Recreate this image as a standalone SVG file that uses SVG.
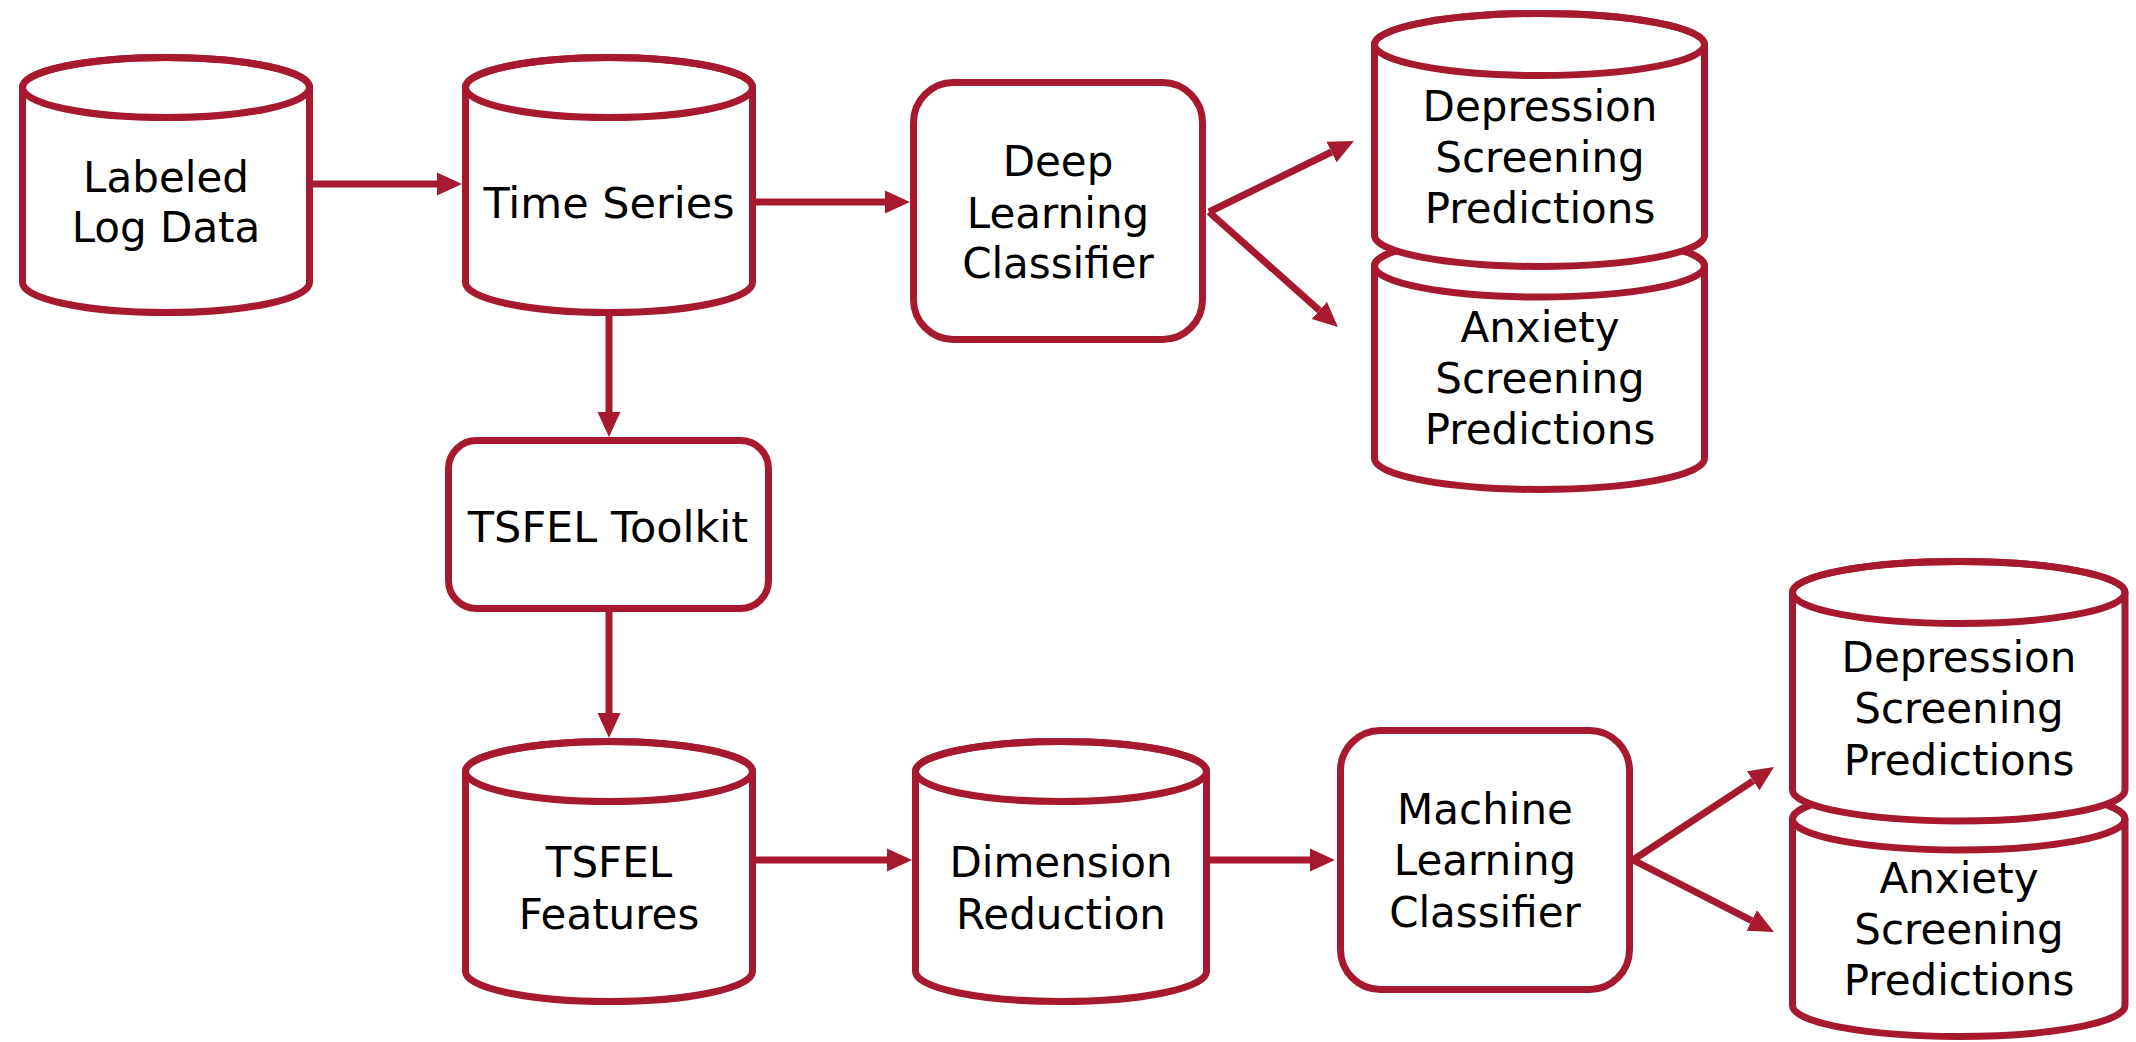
<svg xmlns="http://www.w3.org/2000/svg" width="2136" height="1042" viewBox="0 0 2136 1042">
  <style>
    .shape { fill: #ffffff; stroke: #A6192E; stroke-width: 7; }
    .rim { fill: none; stroke: #A6192E; stroke-width: 7; }
    .edge { stroke: #A6192E; stroke-width: 7; fill: none; marker-end: url(#head); }
    .label { font-family: "DejaVu Sans", Verdana, sans-serif; font-size: 42px; fill: #000000; text-anchor: middle; }
    .wide { font-size: 43px; }
  </style>
  <defs>
    <marker id="head" markerUnits="userSpaceOnUse" viewBox="0 -12 26 24" markerWidth="26" markerHeight="24" refX="0" refY="0" orient="auto">
      <path d="M0,-11.5 L25,0 L0,11.5 Z" fill="#A6192E"/>
    </marker>
  </defs>
  <rect width="2136" height="1042" fill="#ffffff"/>

  <!-- connectors -->
  <g id="connectors">
    <line class="edge" x1="313" y1="184" x2="437" y2="184"/>
    <line class="edge" x1="756" y1="202" x2="885" y2="202"/>
    <line class="edge" x1="1209" y1="212" x2="1331.5" y2="152"/>
    <line class="edge" x1="1209" y1="212" x2="1319.3" y2="310.4"/>
    <line class="edge" x1="609" y1="316" x2="609" y2="412"/>
    <line class="edge" x1="609" y1="612" x2="609" y2="713"/>
    <line class="edge" x1="756" y1="860" x2="887" y2="860"/>
    <line class="edge" x1="1210" y1="860" x2="1310" y2="860"/>
    <line class="edge" x1="1633" y1="860" x2="1753.1" y2="780.8"/>
    <line class="edge" x1="1633" y1="860" x2="1751.7" y2="920.6"/>
  </g>

  <!-- cylinder: body path + top rim ellipse -->
  <g id="labeled-log-data">
    <path class="shape" d="M22.5,87.5 L22.5,282.5 A143.5,30 0 0 0 309.5,282.5 L309.5,87.5 A143.5,30 0 0 0 22.5,87.5 Z"/>
    <ellipse class="rim" cx="166" cy="87.5" rx="143.5" ry="30"/>
    <text class="label" x="166" y="192">Labeled</text>
    <text class="label" x="166" y="242">Log Data</text>
  </g>

  <g id="time-series">
    <path class="shape" d="M465.5,87.5 L465.5,282.5 A143.5,30 0 0 0 752.5,282.5 L752.5,87.5 A143.5,30 0 0 0 465.5,87.5 Z"/>
    <ellipse class="rim" cx="609" cy="87.5" rx="143.5" ry="30"/>
    <text class="label wide" x="609" y="218">Time Series</text>
  </g>

  <g id="deep-learning-classifier">
    <rect class="shape" x="913.5" y="82.5" width="289" height="257" rx="40" ry="40"/>
    <text class="label" x="1058" y="176">Deep</text>
    <text class="label" x="1058" y="228">Learning</text>
    <text class="label" x="1058" y="278">Classifier</text>
  </g>

  <g id="anxiety-dl">
    <path class="shape" d="M1374.5,266 L1374.5,458.5 A165,31 0 0 0 1704.5,458.5 L1704.5,266 A165,31 0 0 0 1374.5,266 Z"/>
    <ellipse class="rim" cx="1539.5" cy="266" rx="165" ry="31"/>
    <text class="label" x="1540" y="342">Anxiety</text>
    <text class="label" x="1540" y="393">Screening</text>
    <text class="label" x="1540" y="444">Predictions</text>
  </g>

  <g id="depression-dl">
    <path class="shape" d="M1374.5,44.5 L1374.5,235.5 A165,31 0 0 0 1704.5,235.5 L1704.5,44.5 A165,31 0 0 0 1374.5,44.5 Z"/>
    <ellipse class="rim" cx="1539.5" cy="44.5" rx="165" ry="31"/>
    <text class="label" x="1540" y="121">Depression</text>
    <text class="label" x="1540" y="172">Screening</text>
    <text class="label" x="1540" y="223">Predictions</text>
  </g>

  <g id="tsfel-toolkit">
    <rect class="shape" x="448.5" y="440.5" width="320" height="168" rx="28" ry="28"/>
    <text class="label wide" x="608" y="542">TSFEL Toolkit</text>
  </g>

  <g id="tsfel-features">
    <path class="shape" d="M465.5,771.5 L465.5,971.5 A143.5,30 0 0 0 752.5,971.5 L752.5,771.5 A143.5,30 0 0 0 465.5,771.5 Z"/>
    <ellipse class="rim" cx="609" cy="771.5" rx="143.5" ry="30"/>
    <text class="label" x="609" y="877">TSFEL</text>
    <text class="label" x="609" y="929">Features</text>
  </g>

  <g id="dimension-reduction">
    <path class="shape" d="M915.5,771.5 L915.5,971.5 A145.5,30 0 0 0 1206.5,971.5 L1206.5,771.5 A145.5,30 0 0 0 915.5,771.5 Z"/>
    <ellipse class="rim" cx="1061" cy="771.5" rx="145.5" ry="30"/>
    <text class="label" x="1061" y="877">Dimension</text>
    <text class="label" x="1061" y="929">Reduction</text>
  </g>

  <g id="machine-learning-classifier">
    <rect class="shape" x="1340.5" y="730.5" width="289" height="259" rx="40" ry="40"/>
    <text class="label" x="1485" y="824">Machine</text>
    <text class="label" x="1485" y="875">Learning</text>
    <text class="label" x="1485" y="927">Classifier</text>
  </g>

  <g id="anxiety-ml">
    <path class="shape" d="M1792.5,819 L1792.5,1005.5 A166.25,31 0 0 0 2125,1005.5 L2125,819 A166.25,31 0 0 0 1792.5,819 Z"/>
    <ellipse class="rim" cx="1958.75" cy="819" rx="166.25" ry="31"/>
    <text class="label" x="1959" y="893">Anxiety</text>
    <text class="label" x="1959" y="944">Screening</text>
    <text class="label" x="1959" y="995">Predictions</text>
  </g>

  <g id="depression-ml">
    <path class="shape" d="M1792.5,592.5 L1792.5,790 A166.25,31 0 0 0 2125,790 L2125,592.5 A166.25,31 0 0 0 1792.5,592.5 Z"/>
    <ellipse class="rim" cx="1958.75" cy="592.5" rx="166.25" ry="31"/>
    <text class="label" x="1959" y="672">Depression</text>
    <text class="label" x="1959" y="723">Screening</text>
    <text class="label" x="1959" y="775">Predictions</text>
  </g>
</svg>
